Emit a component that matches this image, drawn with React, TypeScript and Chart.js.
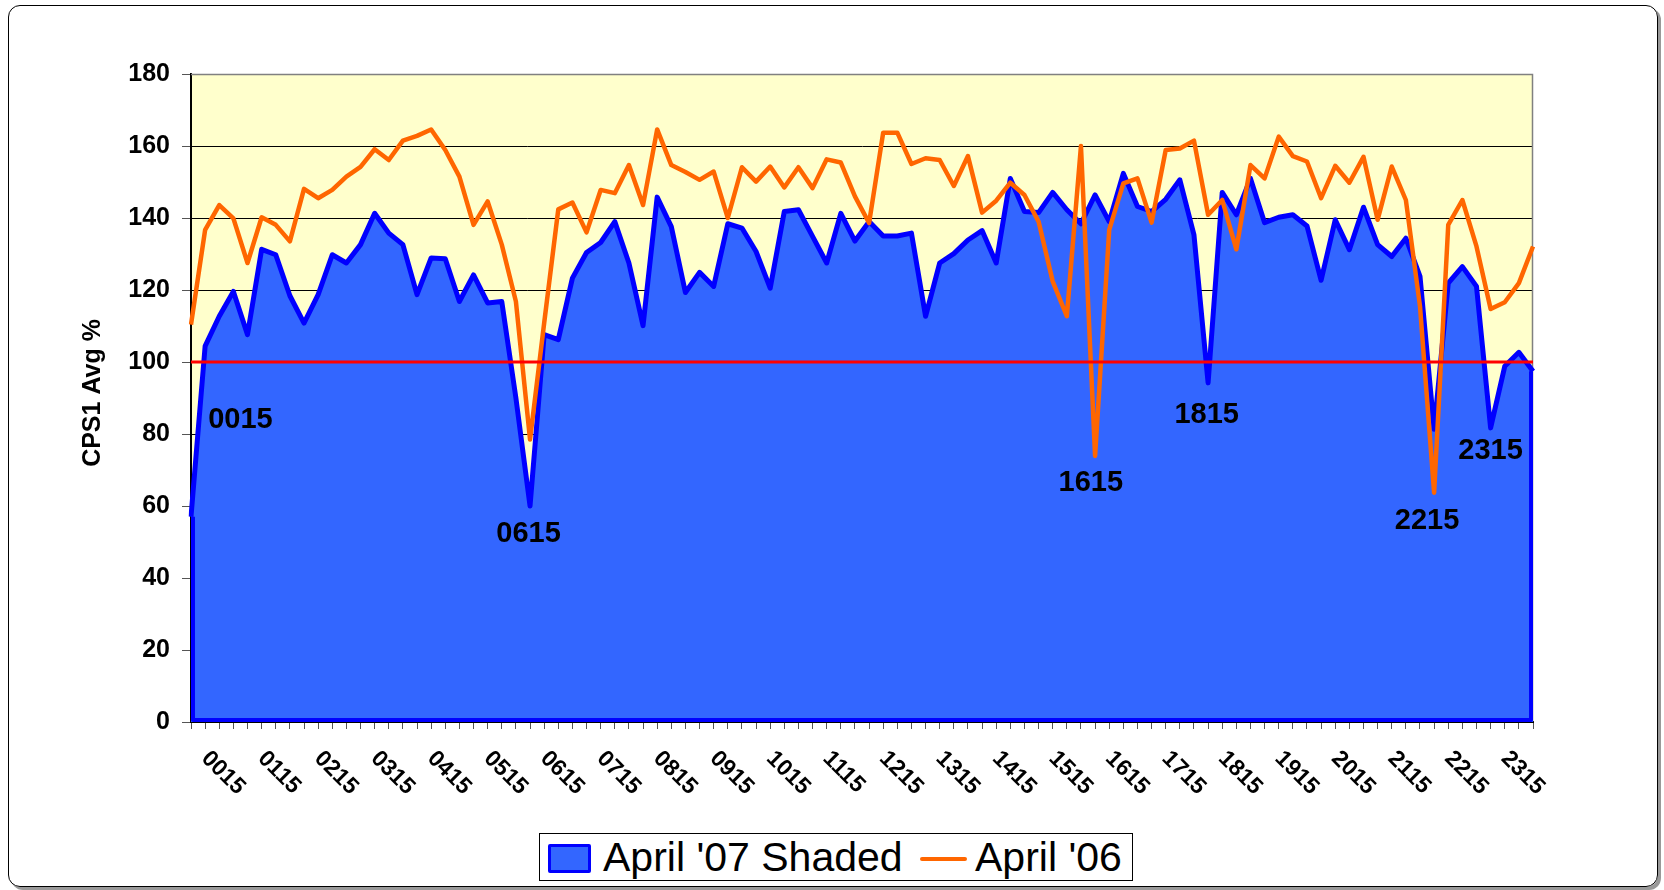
import React, { useEffect, useRef } from "react";
import { Chart, registerables } from "chart.js";

Chart.register(...registerables);

const FONT = "'Liberation Sans', Arial, Helvetica, sans-serif";

const categories = [
  "0015","0030","0045","0100","0115","0130","0145","0200","0215","0230","0245","0300",
  "0315","0330","0345","0400","0415","0430","0445","0500","0515","0530","0545","0600",
  "0615","0630","0645","0700","0715","0730","0745","0800","0815","0830","0845","0900",
  "0915","0930","0945","1000","1015","1030","1045","1100","1115","1130","1145","1200",
  "1215","1230","1245","1300","1315","1330","1345","1400","1415","1430","1445","1500",
  "1515","1530","1545","1600","1615","1630","1645","1700","1715","1730","1745","1800",
  "1815","1830","1845","1900","1915","1930","1945","2000","2015","2030","2045","2100",
  "2115","2130","2145","2200","2215","2230","2245","2300","2315","2330","2345","2400",
];

const xTickLabels = [
  "0015","0115","0215","0315","0415","0515","0615","0715","0815","0915","1015","1115",
  "1215","1315","1415","1515","1615","1715","1815","1915","2015","2115","2215","2315",
];

const yTicks = [0, 20, 40, 60, 80, 100, 120, 140, 160, 180];

const april07 = [
  57, 104.4, 112.7, 119.6, 107.6, 131.3, 129.8, 118.4, 110.8, 118.7, 129.8, 127.5,
  132.6, 141.3, 135.8, 132.6, 118.7, 128.9, 128.7, 116.8, 124.2, 116.4, 116.8, 90,
  60, 107.6, 106.2, 123.3, 130.4, 133.2, 139, 127.5, 110.1, 145.8, 137.6, 119.3,
  124.9, 121, 138.4, 137.2, 130.7, 120.5, 141.8, 142.3, 134.9, 127.5, 141.3, 133.6,
  139, 135, 135, 135.8, 112.7, 127.5, 130.1, 133.9, 136.5, 127.5, 151, 141.8,
  141.5, 147.1, 142.3, 138.4, 146.4, 139, 152.4, 143.2, 141.8, 145.2, 150.6, 135.3,
  94.2, 147.1, 140.9, 151, 138.7, 140.2, 140.9, 137.8, 122.7, 139.5, 131.2, 143,
  132.6, 129.3, 134.4, 123.8, 81.3, 121.9, 126.5, 121, 81.7, 98.8, 102.7, 97.4,
];

const april06 = [
  110.4, 136.7, 143.6, 139.9, 127.5, 140.2, 138.1, 133.5, 148.1, 145.5, 147.8, 151.5,
  154.2, 159.1, 156.1, 161.5, 162.8, 164.6, 158.9, 151.5, 138.1, 144.6, 132.6, 116.8,
  78.5, 110.8, 142.4, 144.3, 136, 147.8, 146.9, 154.7, 143.6, 164.6, 154.7, 152.8,
  150.6, 152.9, 140, 154.1, 150.1, 154.3, 148.5, 154.1, 148.3, 156.3, 155.4, 146,
  138.6, 163.7, 163.7, 155, 156.6, 156.1, 148.9, 157.2, 141.5, 144.8, 149.8, 146.4,
  139, 122.4, 112.7, 160, 73.9, 136.7, 149.6, 151, 138.7, 158.9, 159.3, 161.5,
  140.9, 145, 131.3, 154.7, 151, 162.6, 157.2, 155.7, 145.5, 154.5, 149.8, 157,
  139.5, 154.3, 145, 115.5, 63.7, 138.1, 145, 132.1, 114.7, 116.6, 121.9, 132.1,
];

const targetLevel = 100;

const annotationLabels = ["0015", "0615", "1615", "1815", "2215", "2315"];
const annotationX = [3.5, 23.9, 63.7, 71.9, 87.5, 92.0];
const annotationY = [83.9, 52.3, 66.4, 85.4, 55.9, 75.3];

const yTitle = "CPS1 Avg %";
const seriesNames = ["April '07 Shaded", "April '06"];

export default function App() {
  const ref = useRef<HTMLCanvasElement>(null);

  useEffect(() => {
    document.body.style.margin = "0";
    const canvas = ref.current!;

    const plotBg = {
      id: "plotBg",
      beforeDraw(chart: any) {
        const { ctx, chartArea: a } = chart;
        ctx.save();
        ctx.fillStyle = "#FFFFCC";
        ctx.fillRect(a.left, a.top, a.right - a.left, a.bottom - a.top);
        ctx.restore();
      },
      beforeDatasetsDraw(chart: any) {
        const { ctx, chartArea: a } = chart;
        ctx.save();
        ctx.strokeStyle = "#808080";
        ctx.lineWidth = 1.5;
        ctx.beginPath();
        ctx.moveTo(a.left, a.top + 0.5);
        ctx.lineTo(a.right - 0.5, a.top + 0.5);
        ctx.lineTo(a.right - 0.5, a.bottom);
        ctx.stroke();
        ctx.restore();
      },
      afterDatasetDraw(chart: any, args: any) {
        if (args.index !== 0) return;
        const { ctx } = chart;
        const xs = chart.scales.x;
        const ys = chart.scales.y;
        const x0 = xs.getPixelForValue(0) + 2;
        const xN = xs.getPixelForValue(april07.length - 1) - 2;
        const yb = ys.getPixelForValue(0) - 2;
        ctx.save();
        ctx.strokeStyle = "#0000FF";
        ctx.lineWidth = 4;
        ctx.lineJoin = "round";
        ctx.beginPath();
        ctx.moveTo(x0, ys.getPixelForValue(april07[0]));
        ctx.lineTo(x0, yb);
        ctx.lineTo(xN, yb);
        ctx.lineTo(xN, ys.getPixelForValue(april07[april07.length - 1]));
        ctx.stroke();
        ctx.restore();
      },
      afterDraw(chart: any) {
        const { ctx, chartArea: a } = chart;
        const xs = chart.scales.x;
        const ys = chart.scales.y;
        ctx.save();
        ctx.font = `bold 23px ${FONT}`;
        ctx.fillStyle = "#000";
        ctx.textAlign = "left";
        ctx.textBaseline = "middle";
        xTickLabels.forEach((lbl) => {
          const i = categories.indexOf(lbl);
          const x = xs.getPixelForValue(i);
          ctx.save();
          ctx.translate(x + 14, a.bottom + 33);
          ctx.rotate(Math.PI / 4);
          ctx.fillText(lbl, 0, 0);
          ctx.restore();
        });
        ctx.font = `bold 29px ${FONT}`;
        ctx.textAlign = "center";
        annotationLabels.forEach((lbl, k) => {
          ctx.fillText(lbl, xs.getPixelForValue(annotationX[k]), ys.getPixelForValue(annotationY[k]));
        });
        ctx.font = `bold 25px ${FONT}`;
        ctx.translate(93, (a.top + a.bottom) / 2 - 5);
        ctx.rotate(-Math.PI / 2);
        ctx.fillText(yTitle, 0, 0);
        ctx.restore();
      },
    };

    const chart = new Chart(canvas, {
      type: "line",
      data: {
        labels: categories,
        datasets: [
          {
            label: seriesNames[0],
            data: april07,
            borderColor: "#0000FF",
            backgroundColor: "#3366FF",
            borderWidth: 5,
            borderJoinStyle: "round",
            fill: "origin",
            pointRadius: 0,
            tension: 0,
            order: 3,
          },
          {
            label: seriesNames[1],
            data: april06,
            borderColor: "#FF6600",
            backgroundColor: "#FF6600",
            borderWidth: 4.5,
            borderJoinStyle: "round",
            fill: false,
            pointRadius: 0,
            tension: 0,
            order: 2,
          },
          {
            label: "100%",
            data: categories.map(() => targetLevel),
            borderColor: "#FF0000",
            borderWidth: 3,
            fill: false,
            pointRadius: 0,
            order: 1,
          },
        ],
      },
      options: {
        animation: false,
        responsive: false,
        maintainAspectRatio: false,
        devicePixelRatio: 1,
        layout: { padding: { top: 74, right: 131, left: 0, bottom: 0 } },
        plugins: { legend: { display: false }, tooltip: { enabled: false } },
        scales: {
          x: {
            type: "category",
            offset: false,
            grid: { drawOnChartArea: false, drawTicks: true, tickLength: 7, color: "#555", lineWidth: 1 },
            border: { display: true, color: "#000", width: 2 },
            ticks: { display: false, autoSkip: false },
            afterFit: (s: any) => { s.height = 168; },
          },
          y: {
            min: yTicks[0],
            max: yTicks[yTicks.length - 1],
            ticks: {
              stepSize: 20,
              font: { family: FONT, size: 25, weight: "bold" },
              color: "#000",
              padding: 12,
            },
            grid: {
              color: (c: any) => (c.tick && c.tick.value === 180 ? "#808080" : "#000"),
              tickColor: "#555",
              tickLength: 9,
              lineWidth: 1,
            },
            border: { display: true, color: "#000", width: 2 },
            afterFit: (s: any) => { s.width = 191; },
          },
        },
      },
      plugins: [plotBg],
    } as any);

    return () => chart.destroy();
  }, []);

  return (
    <div style={{ position: "relative", width: 1664, height: 890, background: "#fff", overflow: "hidden" }}>
      <div
        style={{
          position: "absolute", left: 8, top: 5, width: 1650, height: 882,
          boxSizing: "border-box", border: "1.5px solid #000", borderRadius: 12,
          boxShadow: "3px 3px 0 #999",
        }}
      />
      <canvas ref={ref} width={1664} height={890} style={{ position: "absolute", left: 0, top: 0, display: "block" }} />
      <div
        style={{
          position: "absolute", left: 539, top: 833, width: 594, height: 48,
          boxSizing: "border-box", border: "1px solid #000", background: "#fff",
          fontFamily: FONT, fontSize: 41, lineHeight: "41px", color: "#000",
        }}
      >
        <div style={{ position: "absolute", left: 8, top: 10, width: 43, height: 29, boxSizing: "border-box", background: "#3366FF", border: "3px solid #0000FF", borderRadius: 2 }} />
        <div style={{ position: "absolute", left: 63, top: 3, whiteSpace: "nowrap" }}>{seriesNames[0]}</div>
        <div style={{ position: "absolute", left: 380, top: 23, width: 47, height: 4, background: "#FF6600", borderRadius: 2 }} />
        <div style={{ position: "absolute", left: 435, top: 3, whiteSpace: "nowrap" }}>{seriesNames[1]}</div>
      </div>
    </div>
  );
}
